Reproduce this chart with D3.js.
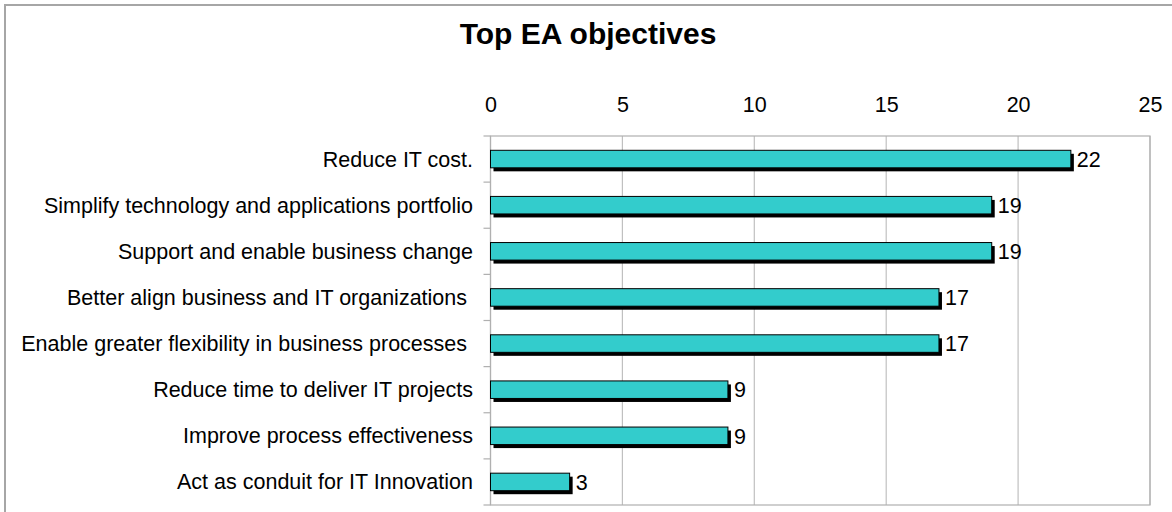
<!DOCTYPE html>
<html>
<head>
<meta charset="utf-8">
<script src="https://cdn.jsdelivr.net/npm/d3@7"></script>
<style>
  body { margin: 0; background: #fff; }
  svg { display: block; font-family: Arial, "Liberation Sans", sans-serif; }
  text { white-space: pre; }
</style>
</head>
<body>
<svg id="chart" width="1172" height="512"></svg>
<script>
// chart data
const categories = [
  'Reduce IT cost.',
  'Simplify technology and applications portfolio',
  'Support and enable business change',
  'Better align business and IT organizations ',
  'Enable greater flexibility in business processes ',
  'Reduce time to deliver IT projects',
  'Improve process effectiveness',
  'Act as conduit for IT Innovation'
];
const values = [22, 19, 19, 17, 17, 9, 9, 3];
const xTicks = [0, 5, 10, 15, 20, 25];

const svg = d3.select('#chart');
const labelSize = '21.5px';

// plot area
const plotLeft = 490.5, plotRight = 1150, plotTop = 136, plotBottom = 505;

const x = d3.scaleLinear().domain([0, 25]).range([plotLeft, plotRight]);
const y = d3.scaleBand().domain(categories).range([plotTop, plotBottom]).paddingInner(0.62).paddingOuter(0.31);

// outer frame
svg.append('rect')
  .attr('x', 5).attr('y', 5)
  .attr('width', 1180).attr('height', 520)
  .attr('fill', 'none')
  .attr('stroke', '#a6a6a6')
  .attr('stroke-width', 2);

// title
svg.append('text')
  .attr('x', 588).attr('y', 44)
  .attr('text-anchor', 'middle')
  .attr('font-size', '30px')
  .attr('font-weight', 'bold')
  .attr('fill', '#000')
  .text('Top EA objectives');

// vertical gridlines
svg.append('g')
  .selectAll('line')
  .data(xTicks)
  .join('line')
  .attr('x1', d => x(d)).attr('x2', d => x(d))
  .attr('y1', plotTop).attr('y2', plotBottom)
  .attr('stroke', '#c0c0c0')
  .attr('stroke-width', 1.2);

// plot area border
svg.append('rect')
  .attr('x', plotLeft).attr('y', plotTop)
  .attr('width', plotRight - plotLeft).attr('height', plotBottom - plotTop)
  .attr('fill', 'none')
  .attr('stroke', '#b0b0b0')
  .attr('stroke-width', 1.2);

// top axis labels
const xAxis = d3.axisTop(x).tickValues(xTicks).tickSize(0).tickPadding(0);
const gx = svg.append('g')
  .attr('transform', `translate(0, ${plotTop - 24})`)
  .call(xAxis);
gx.select('.domain').remove();
gx.selectAll('text')
  .attr('font-size', labelSize)
  .attr('font-family', 'Arial, "Liberation Sans", sans-serif')
  .attr('fill', '#000');

// category tick marks on the left edge
const bandEdges = categories.map(c => y(c) - y.step() * y.paddingInner() / 2);
bandEdges.push(plotBottom);
svg.append('g')
  .selectAll('line')
  .data(bandEdges)
  .join('line')
  .attr('x1', plotLeft - 7).attr('x2', plotLeft)
  .attr('y1', d => d).attr('y2', d => d)
  .attr('stroke', '#b0b0b0')
  .attr('stroke-width', 1.2);

// category labels
svg.append('g')
  .selectAll('text')
  .data(categories)
  .join('text')
  .attr('x', 473)
  .attr('y', d => y(d) + y.bandwidth() / 2)
  .attr('dy', '0.35em')
  .attr('text-anchor', 'end')
  .attr('font-size', labelSize)
  .attr('fill', '#000')
  .text(d => d);

// bar shadows
svg.append('g')
  .selectAll('rect')
  .data(values)
  .join('rect')
  .attr('x', x(0) + 3)
  .attr('y', (d, i) => y(categories[i]) + 3.5)
  .attr('width', d => x(d) - x(0))
  .attr('height', y.bandwidth())
  .attr('fill', '#000');

// bars
svg.append('g')
  .selectAll('rect')
  .data(values)
  .join('rect')
  .attr('x', x(0))
  .attr('y', (d, i) => y(categories[i]))
  .attr('width', d => x(d) - x(0))
  .attr('height', y.bandwidth())
  .attr('fill', '#33cccc')
  .attr('stroke', '#000')
  .attr('stroke-width', 1);

// value labels
svg.append('g')
  .selectAll('text')
  .data(values)
  .join('text')
  .attr('x', d => x(d) + 6)
  .attr('y', (d, i) => y(categories[i]) + y.bandwidth() / 2)
  .attr('dy', '0.36em')
  .attr('font-size', labelSize)
  .attr('fill', '#000')
  .text(d => d);
</script>
</body>
</html>
